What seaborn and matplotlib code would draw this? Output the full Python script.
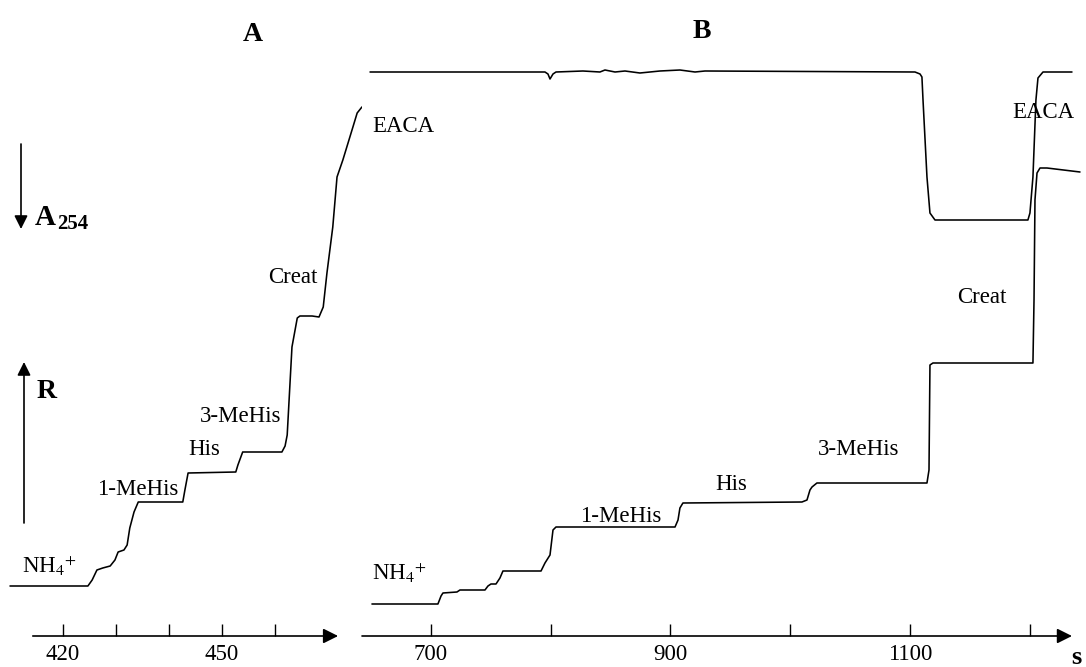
import matplotlib
matplotlib.use("Agg")
import matplotlib.pyplot as plt
import matplotlib.patches as mpatches
import seaborn as sns
import pandas as pd

# panel A, resistance trace (time s, signal a.u.)
a_time = [410.0, 424.7, 425.5, 426.4, 427.5, 428.9, 429.8, 430.4, 431.5, 432.1,
          432.6, 433.4, 434.2, 442.6, 443.0, 443.6, 452.6, 453.0, 453.9, 461.3,
          461.9, 462.3, 463.2, 464.2, 464.7, 467.0, 468.3, 469.1, 469.8, 470.9,
          471.7, 472.8, 474.7, 475.5, 476.4, 477.9]
a_resist = [50, 50, 56, 66, 68, 70, 76, 84, 86, 91,
            108, 124, 134, 134, 146, 163, 164, 171, 184, 184,
            190, 201, 289, 318, 320, 320, 319, 329, 363, 409,
            459, 476, 509, 523, 529, 529]

# panel B, UV trace (A254, inverted)
b_uv_time = [649.1, 795.2, 797.7, 799.4, 801.9, 804.4, 826.9, 841.1, 845.3, 853.7,
             862.0, 874.5, 891.2, 907.9, 920.5, 928.8, 1104.2, 1108.4, 1110.0, 1110.9,
             1114.2, 1116.7, 1120.9, 1198.5, 1200.2, 1202.7, 1205.2, 1206.9, 1211.1, 1235.3]
b_uv = [564, 564, 562, 557, 562, 564, 565, 564, 566, 564,
        565, 563, 565, 566, 564, 565, 564, 562, 559, 536,
        459, 423, 416, 416, 423, 459, 536, 558, 564, 564]

# panel B, resistance trace
b_res_time = [650.7, 705.8, 708.4, 710.0, 721.7, 724.2, 745.1, 747.6, 750.1, 754.3,
              757.6, 760.1, 791.9, 795.2, 799.4, 801.9, 804.4, 903.8, 906.3, 907.9,
              910.4, 1009.8, 1014.0, 1016.5, 1018.2, 1022.3, 1114.2, 1115.9, 1116.7, 1119.2,
              1202.7, 1203.6, 1204.4, 1206.1, 1208.6, 1214.4, 1242.0]
b_resist = [32, 32, 40, 43, 44, 46, 46, 50, 52, 52,
            58, 65, 65, 73, 81, 106, 109, 109, 116, 128,
            133, 134, 136, 146, 149, 153, 153, 166, 271, 273,
            273, 336, 436, 463, 468, 468, 464]

a_ticks = [420, 430, 440, 450, 460]
a_ticklabels = ["420", "", "", "450", ""]
b_ticks = [700, 800, 900, 1000, 1100, 1200]
b_ticklabels = ["700", "", "900", "", "1100", ""]

zones = [r"NH$_{4}{}^{+}$", "1-MeHis", "His", "3-MeHis", "Creat", "EACA"]
a_zone_pos = [(22, 573), (97, 495), (188, 455), (200, 422), (268, 283), (372, 132)]
b_zone_pos = [(372, 580), (580, 522), (715, 490), (818, 455), (957, 303), (1012, 118)]

sns.set_theme(style="white")
plt.rcParams["font.family"] = ["Liberation Serif", "DejaVu Serif"]
plt.rcParams["mathtext.fontset"] = "stix"
plt.rcParams["text.color"] = "black"
plt.rcParams["xtick.color"] = "black"

W, H = 1086, 667
fig = plt.figure(figsize=(W / 100, H / 100), dpi=100)
fig.patch.set_facecolor("white")


def px(x, y):
    return x / W, 1 - y / H


def panel(left, right, xlim, ticks, labels, arrow_from, arrow_to):
    ax = fig.add_axes([left / W, (H - 636) / H, (right - left) / W, 636 / H])
    ax.set_xlim(*xlim)
    ax.set_ylim(0, 636)
    for s in ax.spines.values():
        s.set_visible(False)
    ax.set_yticks([])
    ax.set_xticks(ticks)
    ax.set_xticklabels(labels)
    ax.tick_params(axis="x", direction="in", length=8.6, width=1.0, pad=6,
                   labelsize=16.5, colors="black", bottom=True)
    ax.annotate("", xy=(arrow_to, 0), xytext=(arrow_from, 0),
                xycoords="data", annotation_clip=False,
                arrowprops=dict(arrowstyle="-|>,head_length=0.5,head_width=0.25",
                                lw=1.2, color="black", mutation_scale=18,
                                shrinkA=0, shrinkB=0))
    return ax


ax_a = panel(10, 372, (410.0, 478.3), a_ticks, a_ticklabels, 414.3, 471.9)
ax_b = panel(362, 1080, (642.4, 1242.0), b_ticks, b_ticklabels, 642.4, 1235.3)

df_a = pd.DataFrame({"t": a_time, "r": a_resist})
sns.lineplot(data=df_a, x="t", y="r", ax=ax_a, sort=False, estimator=None,
             color="black", lw=1.15)
df_uv = pd.DataFrame({"t": b_uv_time, "a": b_uv})
sns.lineplot(data=df_uv, x="t", y="a", ax=ax_b, sort=False, estimator=None,
             color="black", lw=1.15)
df_br = pd.DataFrame({"t": b_res_time, "r": b_resist})
sns.lineplot(data=df_br, x="t", y="r", ax=ax_b, sort=False, estimator=None,
             color="black", lw=1.15)
for ax in (ax_a, ax_b):
    ax.set_xlabel("")
    ax.set_ylabel("")
    for ln in ax.lines:
        ln.set_clip_on(False)

# zone labels
for name, (x, y) in zip(zones, a_zone_pos):
    fig.text(*px(x, y), name, fontsize=16.5, ha="left", va="baseline")
for name, (x, y) in zip(zones, b_zone_pos):
    fig.text(*px(x, y), name, fontsize=16.5, ha="left", va="baseline")

# panel titles
fig.text(*px(253, 41), "A", fontsize=20, fontweight="bold", ha="center", va="baseline")
fig.text(*px(702, 38), "B", fontsize=20, fontweight="bold", ha="center", va="baseline")

# detector arrows
fig.text(*px(35, 225), "A", fontsize=21, fontweight="bold", ha="left", va="baseline")
fig.text(*px(57, 229), "254", fontsize=15, fontweight="bold", ha="left", va="baseline")
fig.text(*px(37, 398), "R", fontsize=20, fontweight="bold", ha="left", va="baseline")
arrow_kw = dict(arrowstyle="-|>,head_length=0.5,head_width=0.25", lw=1.2,
                color="black", mutation_scale=16, shrinkA=0, shrinkB=0)
fig.add_artist(mpatches.FancyArrowPatch(
    px(21, 144), px(21, 229), transform=fig.transFigure, **arrow_kw))
fig.add_artist(mpatches.FancyArrowPatch(
    px(24, 523), px(24, 362), transform=fig.transFigure, **arrow_kw))

fig.text(*px(1071, 664), "s", fontsize=19, fontweight="bold", ha="left", va="baseline")

fig.savefig("out.png", dpi=100, facecolor="white")
